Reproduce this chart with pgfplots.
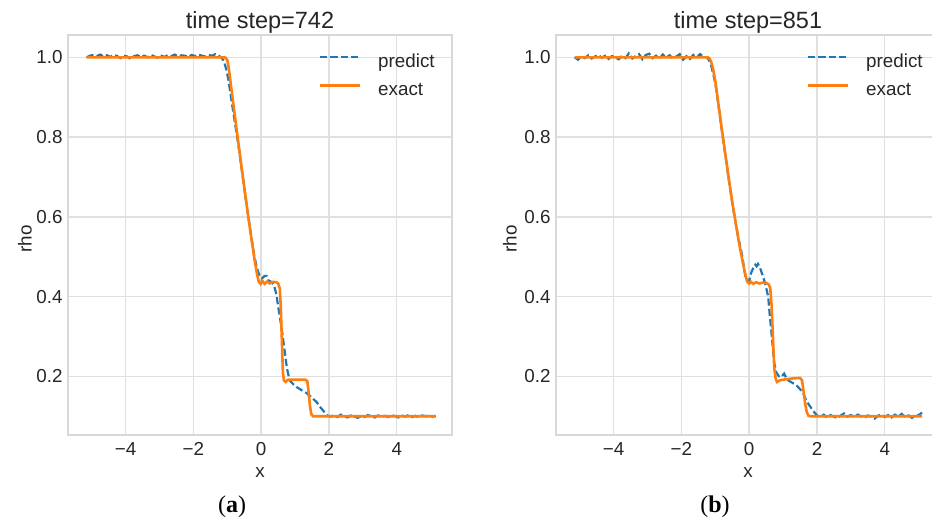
\documentclass[border=0pt]{standalone}
\usepackage{fontspec}
\setmainfont{Liberation Sans}
\newfontfamily\capfont{Liberation Serif}
\usepackage{pgfplots}
\pgfplotsset{compat=1.18}

\definecolor{mblue}{HTML}{1F77B4}
\definecolor{morange}{HTML}{FF7F0E}
\definecolor{gridc}{HTML}{E0E0E0}
\definecolor{framec}{HTML}{D8D8D8}
\definecolor{txt}{HTML}{262626}

\pgfplotsset{
  rhoax/.style={
    scale only axis, width=192pt, height=200pt,
    xmin=-5.70, xmax=5.63, ymin=0.053, ymax=1.056,
    xtick={-4,-2,0,2,4}, xticklabels={−4,−2,0,2,4},
    ytick={0.2,0.4,0.6,0.8,1.0},
    /pgf/number format/assume math mode=true,
    major tick length=0pt,
    grid=major, major grid style={gridc, line width=0.7pt},
    axis line style={framec, line width=0.8pt},
    tick label style={font=\fontsize{9.4}{10}\selectfont, text=txt, inner sep=0pt},
    xticklabel style={yshift=-3.5pt},
    yticklabel style={/pgf/number format/fixed, /pgf/number format/fixed zerofill,
      /pgf/number format/precision=1, xshift=-2.5pt},
    label style={font=\fontsize{9.4}{10}\selectfont, text=txt},
    xlabel={x}, ylabel={rho},
    xlabel style={at={(axis description cs:0.5,-0.094)}, anchor=center},
    every axis title shift=0pt,
    title style={at={(axis description cs:0.5,1)}, anchor=base, yshift=3pt,
      font=\fontsize{11.75}{13}\selectfont, text=txt},
    legend style={draw=none, fill=none, anchor=north west,
      at={(axis description cs:0.636,0.9675)},
      font=\fontsize{9.4}{10}\selectfont, text=txt, row sep=4pt,
      nodes={inner sep=0.5pt, text height=7pt, text depth=2pt},
      /tikz/every odd column/.append style={column sep=8pt}},
    legend cell align=left,
    legend image code/.code={\draw[#1] (0pt,2.5pt) -- (20pt,2.5pt);},
  },
  pred/.style={mblue, line width=1.1pt, dash pattern=on 3.6pt off 1.6pt},
  exact/.style={morange, line width=1.3pt},
}

\begin{document}
\begin{tikzpicture}
\useasboundingbox (0,0) rectangle (466pt,261pt);

% (a) time step 742
\begin{axis}[rhoax, at={(34pt,43.5pt)}, anchor=south west,
  title={time step=742}, ylabel style={at={(axis description cs:-0.112,0.49)}, anchor=center}]
\addplot[pred] coordinates {
(-5.15,1.000) (-5.05,1.004) (-4.95,1.006) (-4.85,1.003) (-4.75,1.007) (-4.65,1.002)
(-4.55,1.005) (-4.45,1.001) (-4.35,1.006) (-4.25,1.003) (-4.15,0.998) (-4.05,1.004)
(-3.95,1.002) (-3.85,0.996) (-3.75,1.003) (-3.65,1.005) (-3.55,1.001) (-3.45,1.004)
(-3.35,1.000) (-3.25,1.006) (-3.15,1.002) (-3.05,0.999) (-2.95,1.004) (-2.85,1.001)
(-2.75,1.006) (-2.65,1.003) (-2.55,1.007) (-2.45,1.002) (-2.35,1.005) (-2.25,1.004)
(-2.15,1.001) (-2.05,1.006) (-1.95,1.003) (-1.85,1.007) (-1.75,1.004) (-1.65,1.002)
(-1.55,1.006) (-1.45,1.004) (-1.35,1.008) (-1.25,1.004) (-1.18,1.000) (-1.10,0.990)
(-1.03,0.970) (-0.97,0.945) (-0.90,0.905) (-0.80,0.850) (-0.70,0.795) (-0.60,0.735)
(-0.50,0.672) (-0.40,0.612) (-0.30,0.555) (-0.20,0.500) (-0.12,0.470) (-0.05,0.452)
(0.02,0.445) (0.10,0.452) (0.16,0.452) (0.22,0.440) (0.30,0.437) (0.38,0.428)
(0.45,0.405) (0.50,0.375) (0.55,0.350) (0.62,0.310) (0.69,0.265) (0.76,0.220)
(0.84,0.190) (0.95,0.180) (1.05,0.173) (1.20,0.165) (1.34,0.158) (1.50,0.146)
(1.63,0.136) (1.75,0.122) (1.87,0.110) (1.95,0.102) (2.05,0.099) (2.15,0.103)
(2.25,0.098) (2.35,0.104) (2.45,0.100) (2.55,0.097) (2.65,0.102) (2.75,0.099)
(2.85,0.096) (2.95,0.101) (3.05,0.098) (3.15,0.103) (3.25,0.100) (3.35,0.097)
(3.45,0.102) (3.55,0.099) (3.65,0.101) (3.75,0.098) (3.85,0.103) (3.95,0.100)
(4.05,0.097) (4.15,0.102) (4.25,0.099) (4.35,0.103) (4.45,0.098) (4.55,0.101)
(4.65,0.097) (4.75,0.102) (4.85,0.100) (4.95,0.103) (5.05,0.099) (5.15,0.101)
};
\addlegendentry{predict}
\addplot[exact] coordinates {
(-5.15,1.0) (-1.10,1.0) (-1.05,0.999) (-1.00,0.993) (-0.96,0.975) (-0.90,0.935)
(-0.80,0.868) (-0.70,0.803) (-0.60,0.738) (-0.50,0.675) (-0.40,0.612) (-0.30,0.552)
(-0.20,0.495) (-0.12,0.455) (-0.07,0.437) (-0.02,0.432) (0.03,0.440) (0.10,0.432)
(0.18,0.438) (0.25,0.433) (0.35,0.437) (0.45,0.436) (0.50,0.433) (0.55,0.420)
(0.58,0.370) (0.61,0.290) (0.64,0.210) (0.67,0.190) (0.72,0.186) (0.80,0.192)
(1.00,0.192) (1.30,0.192) (1.36,0.188) (1.40,0.160) (1.44,0.125) (1.48,0.105)
(1.53,0.100) (5.15,0.100)
};
\addlegendentry{exact}
\end{axis}

% (b) time step 851
\begin{axis}[rhoax, at={(278pt,43.5pt)}, anchor=south west,
  title={time step=851}, ylabel style={at={(axis description cs:-0.12,0.49)}, anchor=center}]
\addplot[pred] coordinates {
(-5.15,1.000) (-5.05,0.994) (-4.95,1.003) (-4.85,0.998) (-4.75,1.005) (-4.65,0.997)
(-4.55,1.002) (-4.45,1.006) (-4.35,0.999) (-4.25,1.004) (-4.15,0.996) (-4.05,1.003)
(-3.95,1.000) (-3.85,0.995) (-3.75,1.004) (-3.65,0.998) (-3.55,1.010) (-3.45,0.997)
(-3.35,1.003) (-3.25,1.008) (-3.15,0.995) (-3.05,1.006) (-2.95,1.009) (-2.85,0.998)
(-2.75,1.004) (-2.65,0.996) (-2.55,1.007) (-2.45,0.999) (-2.35,1.005) (-2.25,0.997)
(-2.15,1.002) (-2.05,1.008) (-1.95,0.994) (-1.85,1.003) (-1.75,0.996) (-1.65,1.006)
(-1.55,0.999) (-1.45,1.008) (-1.35,1.002) (-1.25,1.000) (-1.18,0.992) (-1.12,0.978)
(-1.05,0.955) (-0.98,0.925) (-0.90,0.875) (-0.80,0.812) (-0.70,0.752) (-0.60,0.692)
(-0.50,0.635) (-0.40,0.585) (-0.30,0.540) (-0.20,0.500) (-0.15,0.470) (-0.10,0.445)
(-0.05,0.437) (0.00,0.440) (0.06,0.460) (0.12,0.472) (0.18,0.480) (0.22,0.476)
(0.26,0.482) (0.32,0.472) (0.41,0.450) (0.48,0.430) (0.56,0.400) (0.60,0.360)
(0.65,0.316) (0.70,0.270) (0.74,0.233) (0.80,0.210) (0.89,0.198) (0.96,0.200)
(1.03,0.207) (1.10,0.195) (1.15,0.190) (1.25,0.185) (1.39,0.178) (1.50,0.168)
(1.59,0.158) (1.68,0.140) (1.77,0.128) (1.85,0.118) (1.92,0.110) (2.00,0.102)
(2.10,0.098) (2.20,0.104) (2.30,0.097) (2.40,0.103) (2.50,0.099) (2.60,0.095)
(2.70,0.102) (2.80,0.107) (2.90,0.099) (3.00,0.103) (3.10,0.098) (3.20,0.104)
(3.30,0.100) (3.40,0.096) (3.50,0.102) (3.60,0.099) (3.70,0.094) (3.80,0.101)
(3.90,0.105) (4.00,0.098) (4.10,0.103) (4.20,0.097) (4.30,0.104) (4.40,0.099)
(4.50,0.106) (4.60,0.098) (4.70,0.102) (4.80,0.096) (4.90,0.101) (5.00,0.103)
(5.10,0.109)
};
\addlegendentry{predict}
\addplot[exact] coordinates {
(-5.15,1.0) (-1.22,1.0) (-1.17,0.997) (-1.12,0.988) (-1.06,0.968) (-1.00,0.940)
(-0.90,0.878) (-0.80,0.815) (-0.70,0.755) (-0.60,0.695) (-0.50,0.638) (-0.40,0.585)
(-0.30,0.535) (-0.20,0.490) (-0.10,0.450) (-0.05,0.437) (0.00,0.433) (0.05,0.437)
(0.12,0.432) (0.20,0.436) (0.30,0.433) (0.40,0.435) (0.52,0.434) (0.58,0.430)
(0.62,0.422) (0.66,0.380) (0.70,0.300) (0.74,0.220) (0.78,0.195) (0.82,0.186)
(0.90,0.190) (1.10,0.193) (1.30,0.195) (1.50,0.196) (1.56,0.190) (1.60,0.165)
(1.65,0.133) (1.70,0.110) (1.75,0.101) (1.80,0.100) (5.10,0.100)
};
\addlegendentry{exact}
\end{axis}

\node[font=\capfont\fontsize{12}{14}\selectfont, text=black] at (116pt,7.5pt) {(\textbf{a})};
\node[font=\capfont\fontsize{12}{14}\selectfont, text=black] at (357.5pt,7.5pt) {(\textbf{b})};
\end{tikzpicture}
\end{document}
